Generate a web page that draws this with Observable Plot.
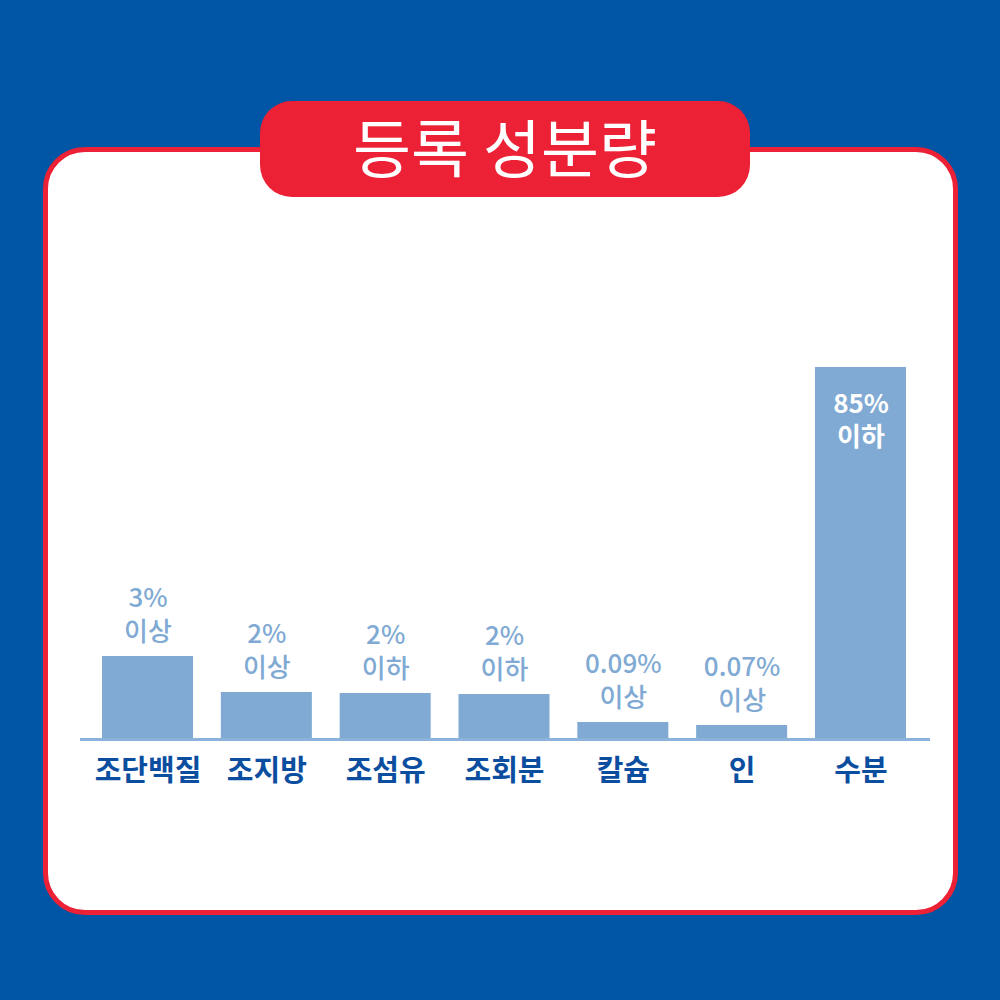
<!DOCTYPE html>
<html>
<head>
<meta charset="utf-8">
<script src="https://cdn.jsdelivr.net/npm/d3@7"></script>
<script src="https://cdn.jsdelivr.net/npm/@observablehq/plot@0.6"></script>
<style>
  html, body { margin: 0; padding: 0; }
  body { width: 1000px; height: 1000px; background: #0055A5; position: relative; overflow: hidden;
         font-family: "Noto Sans CJK KR", "Noto Sans", sans-serif; }
  #card { position: absolute; left: 43px; top: 147px; width: 915px; height: 768px; box-sizing: border-box;
          background: #fff; border: 5px solid #EC2135; border-radius: 42px; }
  #title { position: absolute; left: 260px; top: 101px; width: 490px; height: 96px; background: #EC2135;
           border-radius: 32px; color: #fff; font-size: 63px; line-height: 88px; text-align: center;
           font-weight: 400; }
  #chart { position: absolute; left: 80px; top: 339px; }
  #chart svg { overflow: visible; font-family: "Noto Sans CJK KR", sans-serif; }
</style>
</head>
<body>
<div id="card"></div>
<div id="title">등록 성분량</div>
<div id="chart"></div>
<script>
const categories = ["조단백질", "조지방", "조섬유", "조회분", "칼슘", "인", "수분"];
const barLengths = [83, 47, 46, 45, 17, 14, 372];
const percentLabels = ["3%", "2%", "2%", "2%", "0.09%", "0.07%", "85%"];
const limitLabels = ["이상", "이상", "이하", "이하", "이상", "이상", "이하"];

const data = categories.map((c, i) => ({
  category: c, length: barLengths[i], label: percentLabels[i] + "\n" + limitLabels[i]
}));
const inside = d => d.length > 200;

const chart = Plot.plot({
  width: 850, height: 460,
  marginTop: 0, marginBottom: 60, marginLeft: 0, marginRight: 0,
  x: { domain: categories, range: [22, 826], paddingInner: 0.234, paddingOuter: 0, round: false, label: null, axis: null },
  y: { domain: [0, 400], range: [400, 0], axis: null },
  marks: [
    Plot.barY(data, { x: "category", y: "length", fill: "#80AAD3" }),
    Plot.ruleY([0], { stroke: "#8AB2DA", strokeWidth: 3 }),
    Plot.text(data.filter(d => !inside(d)), {
      x: "category", y: "length", text: "label", lineAnchor: "bottom", dy: -16,
      lineHeight: 1.3, fontSize: 26, fontWeight: 500, fill: "#80AAD3"
    }),
    Plot.text(data.filter(inside), {
      x: "category", y: "length", text: "label", lineAnchor: "top", dy: 21,
      lineHeight: 1.3, fontSize: 26, fontWeight: 600, fill: "#ffffff"
    }),
    Plot.axisX({ tickSize: 0, tickPadding: 21, fontSize: 29, fontWeight: 700, fill: "#0B4EA0", label: null })
  ]
});
document.getElementById("chart").appendChild(chart);
</script>
</body>
</html>
